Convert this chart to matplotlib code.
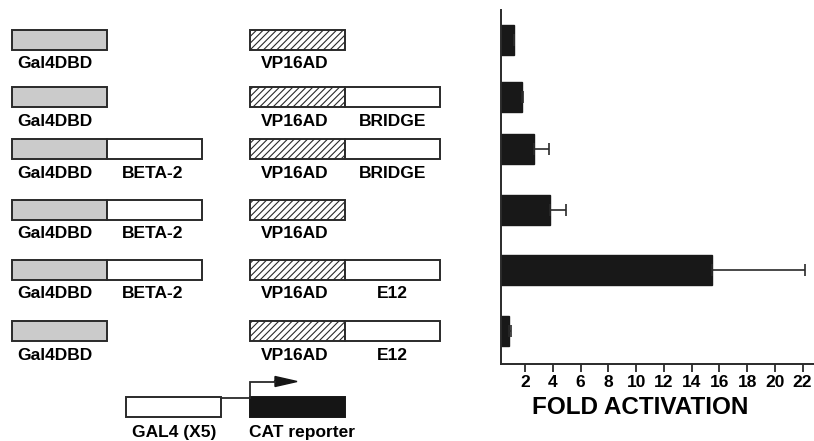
import matplotlib
matplotlib.use("Agg")
import matplotlib.pyplot as plt
from matplotlib.patches import Rectangle

plt.rcParams["font.family"] = ["Liberation Sans", "DejaVu Sans"]
plt.rcParams["font.weight"] = "bold"
plt.rcParams["hatch.linewidth"] = 0.8

# Data
dbd_names = ["Gal4DBD"] * 6
dbd_partners = ["", "", "BETA-2", "BETA-2", "BETA-2", ""]
ad_names = ["VP16AD"] * 6
ad_partners = ["", "BRIDGE", "BRIDGE", "", "E12", "E12"]
fold = [1.2, 1.75, 2.65, 3.8, 15.45, 0.85]
fold_err = [0.0, 0.12, 1.1, 1.15, 6.7, 0.12]
xticks = [2, 4, 6, 8, 10, 12, 14, 16, 18, 20, 22]

# Layout (pixel units, figure is 814 x 441)
W, H = 814, 441
row_y = [40, 97, 149, 210, 270, 331]
box_h = 20
box_w = 95
dbd_x = 12
ad_x = 250
ink = "#2a2a2a"

fig = plt.figure(figsize=(W / 100, H / 100), dpi=100)

# Diagram overlay, one data unit = one pixel
dax = fig.add_axes([0, 0, 1, 1])
dax.set_xlim(0, W)
dax.set_ylim(H, 0)
dax.axis("off")


def box(x, y, face, hatch=None):
    dax.add_patch(Rectangle((x, y - box_h / 2), box_w, box_h, facecolor=face,
                            edgecolor=ink, lw=1.4, hatch=hatch))


for i, y in enumerate(row_y):
    ty = y + box_h / 2 + 14
    # Gal4 DBD fusion
    box(dbd_x, y, "#cbcbcb")
    dax.text(dbd_x + box_w / 2 - 5, ty, dbd_names[i], ha="center", va="center", fontsize=12.5)
    if dbd_partners[i]:
        box(dbd_x + box_w, y, "white")
        dax.text(dbd_x + 1.5 * box_w - 2, ty, dbd_partners[i], ha="center", va="center", fontsize=12.5)
    # VP16 AD fusion
    box(ad_x, y, "white", hatch="/////")
    dax.text(ad_x + box_w / 2 - 3, ty, ad_names[i], ha="center", va="center", fontsize=12.5)
    if ad_partners[i]:
        box(ad_x + box_w, y, "white")
        dax.text(ad_x + 1.5 * box_w, ty, ad_partners[i], ha="center", va="center", fontsize=12.5)

# Reporter construct
rep_y = 407
dax.add_patch(Rectangle((126, rep_y - 10), box_w, 20, facecolor="white", edgecolor=ink, lw=1.4))
dax.add_patch(Rectangle((250, rep_y - 10), box_w, 20, facecolor="#151515", edgecolor="#151515", lw=1.4))
dax.plot([221, 250, 250, 275], [397.5, 397.5, 381.5, 381.5], color=ink, lw=1.3,
         solid_joinstyle="miter")
dax.arrow(274, 381.5, 23, 0, width=0.1, head_width=10, head_length=22,
          length_includes_head=True, color="#151515")
dax.text(174, 432, "GAL4 (X5)", ha="center", va="center", fontsize=12.5)
dax.text(302, 432, "CAT reporter", ha="center", va="center", fontsize=12.5)

# Bar chart
ax = fig.add_axes([501 / W, (H - 364) / H, (W - 501) / W, (364 - 10) / H])
ax.barh(row_y, fold, height=30, color="#181818", edgecolor="#181818")
ax.errorbar(fold, row_y, xerr=[[0] * 6, fold_err], fmt="none", ecolor=ink,
            elinewidth=1.2, capsize=4, capthick=1.2)
ax.set_ylim(364, 10)
ax.set_xlim(0.26, 22.82)
ax.set_yticks([])
ax.set_xticks(xticks)
ax.set_xticklabels([str(t) for t in xticks], fontsize=12.5, fontweight="bold")
ax.tick_params(axis="x", direction="out", length=6, width=1.3, color=ink, pad=2)
ax.spines["top"].set_visible(False)
ax.spines["right"].set_visible(False)
for s in ("left", "bottom"):
    ax.spines[s].set_linewidth(1.4)
    ax.spines[s].set_color(ink)
ax.patch.set_alpha(0)

fig.text(640 / W, 1 - 408 / H, "FOLD ACTIVATION", ha="center", va="center",
         fontsize=17.5, fontweight="bold")

fig.savefig("out.png", dpi=100)
